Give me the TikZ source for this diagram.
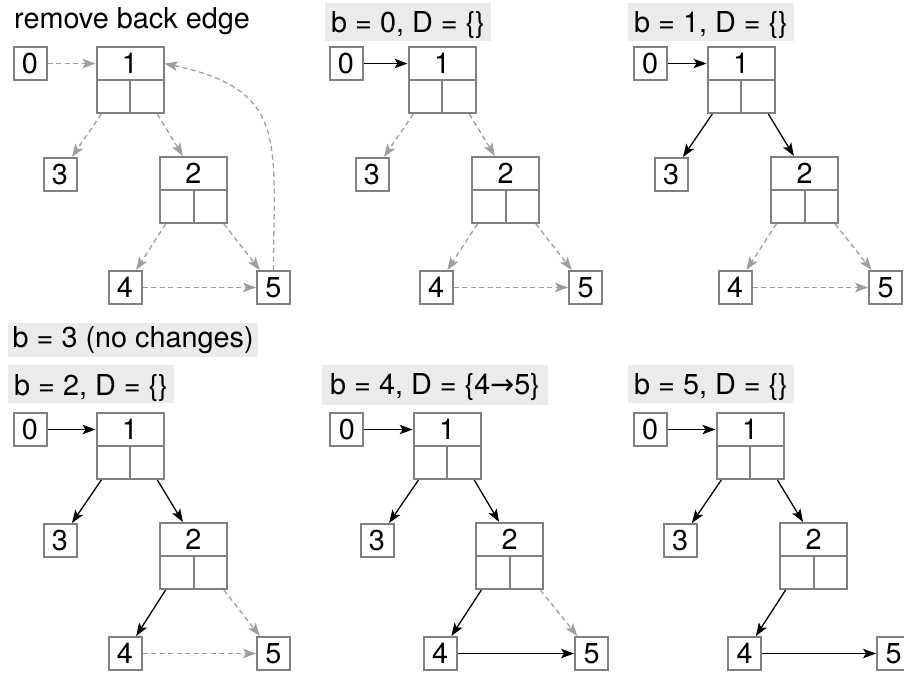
\documentclass[tikz,border=0pt]{standalone}
\usepackage{fontspec}
\setmainfont{TeX Gyre Heros}
\newfontfamily\symf{DejaVu Sans}
\usetikzlibrary{arrows.meta}
\definecolor{boxgray}{gray}{0.5}
\definecolor{dashgray}{gray}{0.62}
\definecolor{labelbg}{gray}{0.92}
\newcommand\mkpanel[8]{%
  \node[box] (#1n0) at (#3,-#2-63.5) {0};
  \node[hdr] (#1n1) at (#4,-#2-63.5) {1};
  \node[cell] (#1c1l) at (#4-16.75,-#2-96.5) {};
  \node[cell] (#1c1r) at (#4+16.75,-#2-96.5) {};
  \node[box] (#1n3) at (#5,-#2-174.5) {3};
  \node[hdr] (#1n2) at (#6,-#2-173.5) {2};
  \node[cell] (#1c2l) at (#6-16.75,-#2-206.5) {};
  \node[cell] (#1c2r) at (#6+16.75,-#2-206.5) {};
  \node[box] (#1n4) at (#7,-#2-287.5) {4};
  \node[box] (#1n5) at (#8,-#2-287.5) {5};
}
\begin{document}
\begin{tikzpicture}[x=1pt,y=1pt,
  font=\fontsize{28.8}{34}\selectfont,
  box/.style={draw=boxgray, line width=2pt, minimum width=33pt, minimum height=33pt, inner sep=0pt},
  hdr/.style={box, minimum width=67pt},
  cell/.style={box, minimum width=33.5pt},
  tipstyle/.style={-{Stealth[length=13pt,width=9.5pt,inset=3pt]}},
  sedge/.style={black, line width=1.3pt, tipstyle},
  dedge/.style={dashgray, line width=1.3pt, dash pattern=on 5pt off 3.5pt, tipstyle},
  lbl/.style={fill=labelbg, inner ysep=0pt, anchor=base west},
]
\useasboundingbox (0,0) rectangle (904,-675);

% labels
\node[anchor=base west, inner sep=0pt] (tA) at (14,-28) {remove back edge};
\node[lbl, inner xsep=6pt, text height=29pt, text depth=9pt] (tB) at (325,-32) {b = 0, D = \{\}};
\node[lbl, inner xsep=6pt, text height=29pt, text depth=9pt] (tC) at (628,-32) {b = 1, D = \{\}};
\node[lbl, inner xsep=4.5pt, text height=24pt, text depth=10pt] (tD1) at (8,-347) {b = 3 (no changes)};
\node[lbl, inner xsep=6pt, text height=30pt, text depth=8pt] (tD2) at (8,-395) {b = 2, D = \{\}};
\node[lbl, inner xsep=8pt, text height=29pt, text depth=11pt] (tE) at (322,-394) {b = 4, D = \{4{\symf →}5\}};
\node[lbl, inner xsep=6pt, text height=29pt, text depth=9pt] (tF) at (628,-394) {b = 5, D = \{\}};

% panels
\mkpanel{A}{0}{30}{130}{60}{193.5}{125}{273.5}
\mkpanel{B}{0}{346}{442}{372}{505.5}{436}{585.5}
\mkpanel{C}{0}{650}{741}{671}{804.5}{735}{885.5}
\mkpanel{D}{366}{30}{130}{60}{193.5}{125}{273.5}
\mkpanel{E}{366}{346.8}{447.2}{377}{509.5}{440}{591.5}
\mkpanel{F}{366}{650}{750}{680}{813.7}{744.5}{893.5}

% panel A
\draw[dedge] (An0) -- (An1);
\draw[dedge] (Ac1l) -- (An3);
\draw[dedge] (Ac1r) -- (An2);
\draw[dedge] (Ac2l) -- (An4);
\draw[dedge] (Ac2r) -- (An5);
\draw[dedge] (An4) -- (An5);
\draw[dedge] (An5.north) to[out=90,in=-12,looseness=1.4] (An1.east);

% panel B
\draw[sedge] (Bn0) -- (Bn1);
\draw[dedge] (Bc1l) -- (Bn3);
\draw[dedge] (Bc1r) -- (Bn2);
\draw[dedge] (Bc2l) -- (Bn4);
\draw[dedge] (Bc2r) -- (Bn5);
\draw[dedge] (Bn4) -- (Bn5);

% panel C
\draw[sedge] (Cn0) -- (Cn1);
\draw[sedge] (Cc1l) -- (Cn3);
\draw[sedge] (Cc1r) -- (Cn2);
\draw[dedge] (Cc2l) -- (Cn4);
\draw[dedge] (Cc2r) -- (Cn5);
\draw[dedge] (Cn4) -- (Cn5);

% panel D
\draw[sedge] (Dn0) -- (Dn1);
\draw[sedge] (Dc1l) -- (Dn3);
\draw[sedge] (Dc1r) -- (Dn2);
\draw[sedge] (Dc2l) -- (Dn4);
\draw[dedge] (Dc2r) -- (Dn5);
\draw[dedge] (Dn4) -- (Dn5);

% panel E
\draw[sedge] (En0) -- (En1);
\draw[sedge] (Ec1l) -- (En3);
\draw[sedge] (Ec1r) -- (En2);
\draw[sedge] (Ec2l) -- (En4);
\draw[dedge] (Ec2r) -- (En5);
\draw[sedge] (En4) -- (En5);

% panel F
\draw[sedge] (Fn0) -- (Fn1);
\draw[sedge] (Fc1l) -- (Fn3);
\draw[sedge] (Fc1r) -- (Fn2);
\draw[sedge] (Fc2l) -- (Fn4);
\draw[sedge] (Fn4) -- (Fn5);
\end{tikzpicture}
\end{document}
